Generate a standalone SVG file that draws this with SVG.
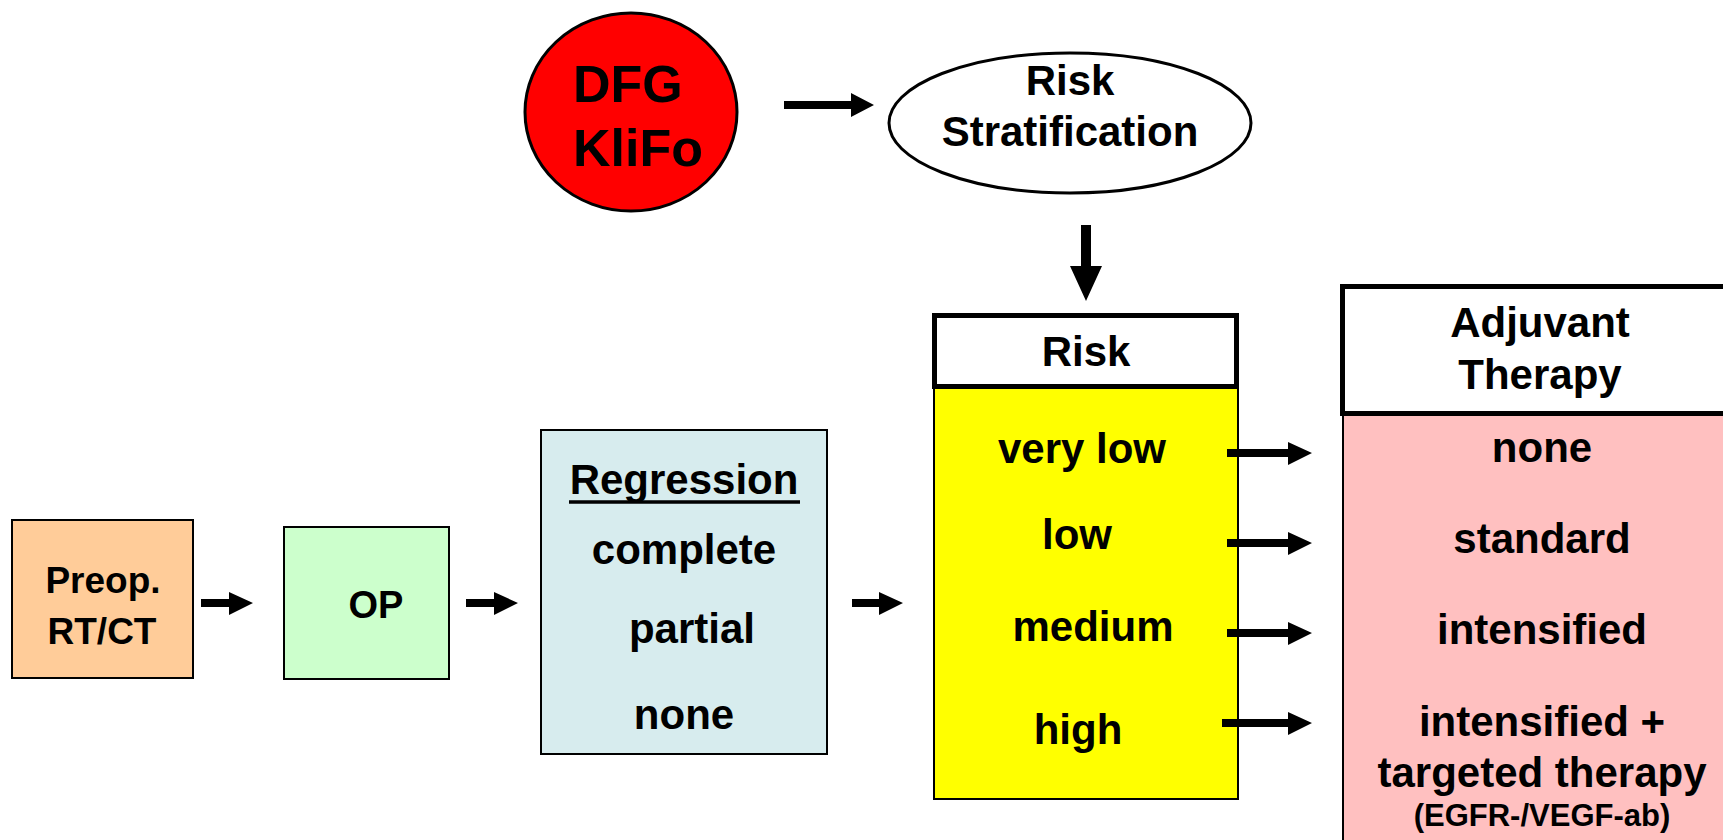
<svg xmlns="http://www.w3.org/2000/svg" width="1723" height="840" viewBox="0 0 1723 840">
<style>
text{font-family:"Liberation Sans",Arial,sans-serif;font-weight:bold;fill:#000;}
.c{text-anchor:middle;}
.t42{font-size:42px;}
.box{stroke:#000;stroke-width:2;}
.hdr{fill:#fff;stroke:#000;stroke-width:5;}
.arr{fill:#000;}
</style>
<rect width="1723" height="840" fill="#fff"/>
<g id="dfg">
<ellipse cx="631" cy="112" rx="106" ry="99" fill="#ff0000" stroke="#000" stroke-width="3"/>
<text x="573" y="102" style="font-size:52px">DFG</text>
<text x="573" y="166" style="font-size:52px">KliFo</text>
</g>
<g id="riskstrat">
<ellipse cx="1070" cy="123" rx="181" ry="70" fill="#fff" stroke="#000" stroke-width="3"/>
<text class="c t42" x="1070" y="95">Risk</text>
<text class="c t42" x="1070" y="146">Stratification</text>
</g>
<g id="preop">
<rect class="box" x="12" y="520" width="181" height="158" fill="#ffcc99"/>
<text class="c" x="103" y="593" style="font-size:37px">Preop.</text>
<text class="c" x="102" y="644" style="font-size:37px">RT/CT</text>
</g>
<g id="op">
<rect class="box" x="284" y="527" width="165" height="152" fill="#ccffcc"/>
<text class="c" x="376" y="618" style="font-size:38px">OP</text>
</g>
<g id="regression">
<rect class="box" x="541" y="430" width="286" height="324" fill="#d7ecee"/>
<text class="c t42" x="684" y="494">Regression</text>
<line x1="569" y1="502" x2="800" y2="502" stroke="#000" stroke-width="3.5"/>
<text class="c t42" x="684" y="564">complete</text>
<text class="c t42" x="692" y="643">partial</text>
<text class="c t42" x="684" y="729">none</text>
</g>
<g id="risk">
<rect class="box" x="934" y="387" width="304" height="412" fill="#ffff00"/>
<rect class="hdr" x="934.5" y="315.5" width="302" height="71"/>
<text class="c t42" x="1086" y="366">Risk</text>
<text class="c t42" x="1082" y="463">very low</text>
<text class="c t42" x="1077" y="549">low</text>
<text class="c t42" x="1093" y="641">medium</text>
<text class="c t42" x="1078" y="744">high</text>
</g>
<g id="therapy">
<rect class="box" x="1343" y="413" width="400" height="440" fill="#ffc0c0"/>
<rect class="hdr" x="1342.5" y="286.5" width="400" height="127"/>
<text class="c t42" x="1540" y="337">Adjuvant</text>
<text class="c t42" x="1540" y="389">Therapy</text>
<text class="c t42" x="1542" y="462">none</text>
<text class="c t42" x="1542" y="553">standard</text>
<text class="c t42" x="1542" y="644">intensified</text>
<text class="c t42" x="1542" y="736">intensified +</text>
<text class="c t42" x="1542" y="787">targeted therapy</text>
<text class="c" x="1542" y="826" style="font-size:31px">(EGFR-/VEGF-ab)</text>
</g>
<g id="connectors" class="arr">
<path d="M784 101 H851 V93 L874 105 L851 117 V109 H784 Z"/>
<path d="M1081 225 H1091 V266 H1102 L1086 301 L1070 266 H1081 Z"/>
<path d="M201 599 H229 V592 L253 603 L229 615 V607 H201 Z"/>
<path d="M466 599 H494 V592 L518 603 L494 615 V607 H466 Z"/>
<path d="M852 599 H879 V592 L903 603 L879 615 V607 H852 Z"/>
<path d="M1227 449 H1288 V442 L1312 453 L1288 465 V457 H1227 Z"/>
<path d="M1227 539 H1288 V532 L1312 543 L1288 555 V547 H1227 Z"/>
<path d="M1227 629 H1288 V622 L1312 633 L1288 645 V637 H1227 Z"/>
<path d="M1222 719 H1288 V712 L1312 723 L1288 735 V727 H1222 Z"/>
</g>
</svg>
